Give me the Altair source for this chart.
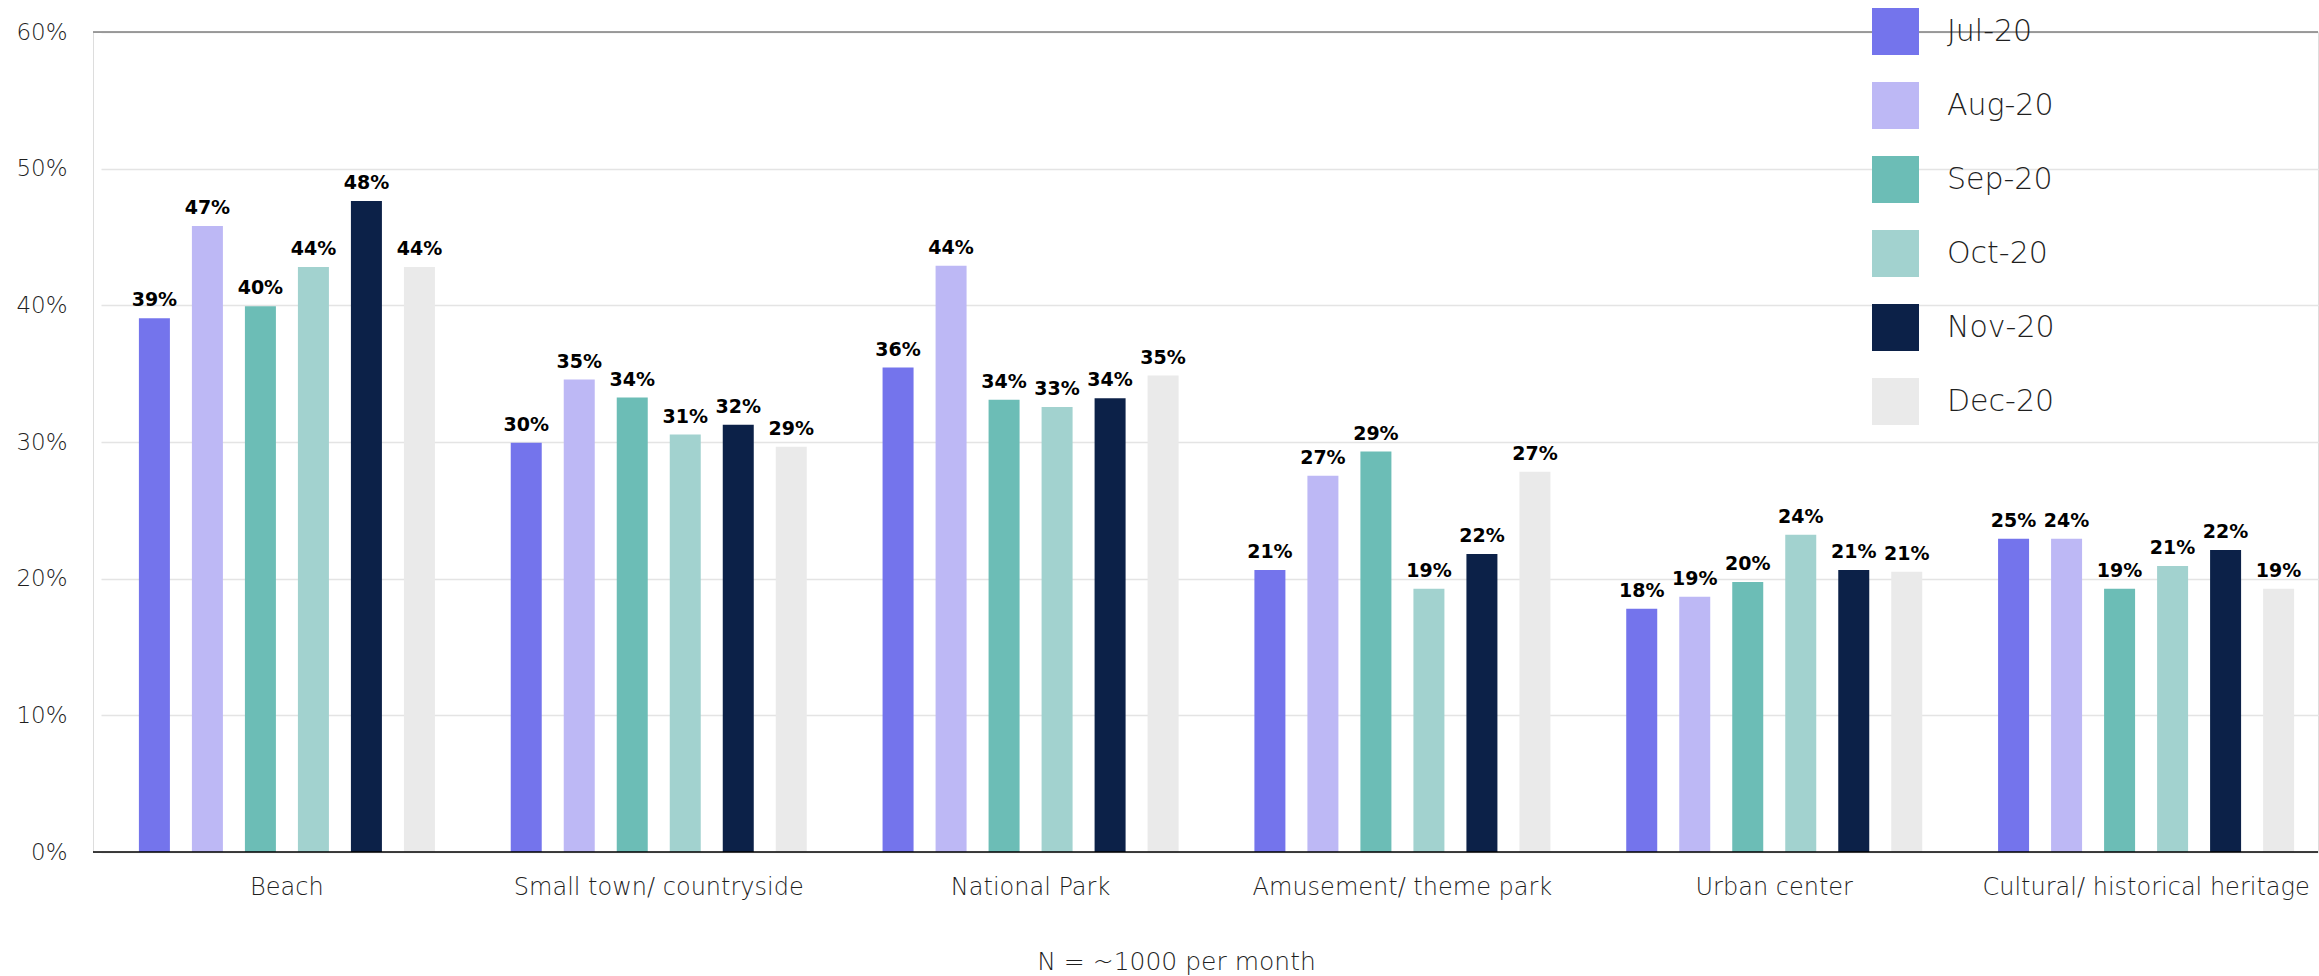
import altair as alt
import pandas as pd

categories = ["Beach", "Small town/ countryside", "National Park",
              "Amusement/ theme park", "Urban center", "Cultural/ historical heritage"]
months = ["Jul-20", "Aug-20", "Sep-20", "Oct-20", "Nov-20", "Dec-20"]
colors = ["#7474EC", "#BDB8F5", "#6CBDB6", "#A2D2CF", "#0C2148", "#EAEAEA"]

# bar heights (percent) per month, in category order
jul = [39.05, 29.95, 35.45, 20.63, 17.79, 22.92]
aug = [45.8, 34.57, 42.9, 27.53, 18.67, 22.92]
sep = [39.93, 33.25, 33.1, 29.3, 19.75, 19.26]
oct_ = [42.8, 30.54, 32.57, 19.26, 23.22, 20.93]
nov = [47.64, 31.27, 33.2, 21.8, 20.63, 22.1]
dec = [42.8, 29.66, 34.86, 27.83, 20.5, 19.26]

# printed data labels per month, in category order
jul_lbl = ["39%", "30%", "36%", "21%", "18%", "25%"]
aug_lbl = ["47%", "35%", "44%", "27%", "19%", "24%"]
sep_lbl = ["40%", "34%", "34%", "29%", "20%", "19%"]
oct_lbl = ["44%", "31%", "33%", "19%", "24%", "21%"]
nov_lbl = ["48%", "32%", "34%", "22%", "21%", "22%"]
dec_lbl = ["44%", "29%", "35%", "27%", "21%", "19%"]

y_ticks = [0, 10, 20, 30, 40, 50, 60]

series = [jul, aug, sep, oct_, nov, dec]
labels = [jul_lbl, aug_lbl, sep_lbl, oct_lbl, nov_lbl, dec_lbl]

rows = []
for m, vals, lbls in zip(months, series, labels):
    for c, v, l in zip(categories, vals, lbls):
        rows.append({"category": c, "month": m, "value": v, "label": l})
df = pd.DataFrame(rows)

W, H = 2225, 820
AX_FONT = "DejaVu Sans"
LIGHT = 200
TXT = "#1F1F1F"

x_enc = alt.X("category:N", sort=categories,
              scale=alt.Scale(range=[8, 2239], paddingInner=0, paddingOuter=0),
              axis=alt.Axis(title="N = ~1000 per month", labelAngle=0, labelFontSize=24,
                            labelFont=AX_FONT, labelFontWeight=LIGHT, labelColor=TXT,
                            labelPadding=23, ticks=False, domain=False, grid=False,
                            labelLimit=400,
                            titleFont=AX_FONT, titleFontWeight=LIGHT, titleFontSize=25,
                            titleColor=TXT, titleX=1083, titleY=117,
                            titleBaseline="alphabetic", titleAlign="center",
                            titleAnchor="start"))
xoff = alt.XOffset("month:N", sort=months,
                   scale=alt.Scale(paddingInner=0.415, paddingOuter=0.715))
y_enc = alt.Y("value:Q", scale=alt.Scale(domain=[0, 60], nice=False, zero=True),
              axis=alt.Axis(title=None, values=y_ticks, labelExpr="datum.value + '%'",
                            labelFontSize=23, labelFont=AX_FONT, labelFontWeight=LIGHT,
                            labelColor=TXT, labelPadding=26, ticks=False,
                            domain=False, grid=True, gridColor="#E4E4E4",
                            gridWidth=1.5))

base = alt.Chart(df)

bars = base.mark_bar(size=31).encode(
    x=x_enc,
    xOffset=xoff,
    y=y_enc,
    color=alt.Color("month:N", sort=months,
                    scale=alt.Scale(domain=months, range=colors),
                    legend=alt.Legend(title=None, orient="none", legendX=1779, legendY=-24,
                                      symbolType="square", symbolSize=2209,
                                      symbolStrokeWidth=0, symbolOpacity=1,
                                      rowPadding=27, labelOffset=28, labelFontSize=30,
                                      labelFont=AX_FONT, labelFontWeight=LIGHT,
                                      labelColor=TXT, padding=0)),
)

text = base.mark_text(font=AX_FONT, fontWeight="bold", fontSize=19, color="#000000",
                      baseline="alphabetic", dy=-12).encode(
    x=alt.X("category:N", sort=categories),
    xOffset=alt.XOffset("month:N", sort=months),
    y=alt.Y("value:Q"),
    text="label:N",
)

top_rule = alt.Chart(pd.DataFrame({"v": [60]})).mark_rule(
    color="#7F7F7F", strokeWidth=1.5).encode(y=alt.Y("v:Q"))
zero_rule = alt.Chart(pd.DataFrame({"v": [0]})).mark_rule(
    color="#000000", strokeWidth=1.5).encode(y=alt.Y("v:Q"))

chart = alt.layer(bars, text, top_rule, zero_rule).properties(
    width=W, height=H,
    padding={"left": 93, "top": 32, "right": 1, "bottom": 124},
    autosize=alt.AutoSizeParams(type="none"),
).configure_view(stroke=None).configure(background="white")

chart.save("out.html", embed_options={"renderer": "svg", "actions": False})
